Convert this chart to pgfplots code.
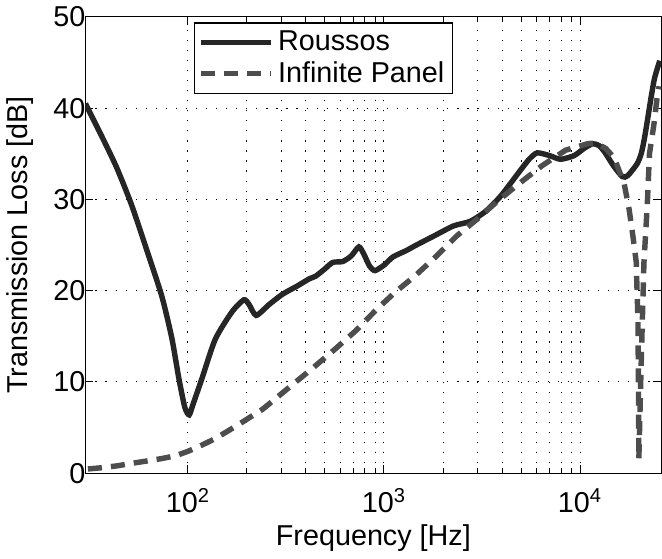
\documentclass[border=0pt]{standalone}
\usepackage{fontspec}
\setmainfont{Liberation Sans}
\usepackage{pgfplots}
\pgfplotsset{compat=1.18}

\definecolor{solidc}{HTML}{262626}
\definecolor{dashc}{HTML}{4D4D4D}

\begin{document}
\begin{tikzpicture}
  \begin{axis}[
    scale only axis,
    width=286.5pt, height=227pt,
    xmode=log,
    xmin=30, xmax=26000,
    ymin=0, ymax=50,
    ytick={0,10,20,30,40,50},
    xtick={100,1000,10000},
    xticklabels={10\textsuperscript{2},10\textsuperscript{3},10\textsuperscript{4}},
    /pgf/number format/assume math mode=true,
    tick align=inside,
    tick pos=both,
    major tick length=4pt,
    minor tick length=2.5pt,
    grid=both,
    major grid style={black, line width=0.5pt, dash pattern=on 0.6pt off 4.4pt},
    minor grid style={black, line width=0.5pt, dash pattern=on 0.6pt off 4.4pt},
    minor y tick num=0,
    axis line style={black, line width=0.6pt},
    tick style={black, line width=0.5pt},
    font=\fontsize{14.3}{16}\selectfont,
    xticklabel style={yshift=-4pt},
    yticklabel style={xshift=3.5pt},
    xlabel={Frequency [Hz]},
    ylabel={Transmission Loss [dB]},
    xlabel style={yshift=1pt},
    ylabel style={yshift=3pt},
    legend style={at={(0.188,0.988)}, anchor=north west, draw=black, line width=0.6pt,
      fill=white, inner sep=2pt, row sep=0pt, font=\fontsize{14.3}{16}\selectfont},
    legend cell align=left,
    legend image code/.code={\draw[#1] (0pt,0pt) -- (35pt,0pt);},
  ]
    \addplot[solidc, line width=2.7pt, smooth, tension=0.4] coordinates {
      (30,40.5) (36.2,37.0) (43.3,33.5) (51.6,29.4) (61.6,24.5) (73.6,19.4)
      (82.8,14.8) (89.9,10.4) (96.5,7.2) (101.5,6.4) (106,7.5) (118,10.4)
      (138,14.7) (168,17.7) (193,19.0) (205,18.5) (223,17.3) (260,18.5)
      (303,19.6) (360,20.5) (416,21.3) (449,21.6) (500,22.4) (548,23.1)
      (616,23.2) (680,23.8) (745,24.8) (790,24.0) (844,22.7) (900,22.2)
      (1000,22.8) (1111,23.7) (1300,24.4) (1462,25.0) (1800,26.0) (2264,27.1)
      (2754,27.6) (3300,28.7) (3915,30.3) (4400,31.7) (4967,33.2) (5500,34.4)
      (6044,35.1) (7000,34.8) (7951,34.4) (9327,34.8) (10500,35.6) (11600,36.1)
      (12500,35.9) (13340,35.2) (14800,33.7) (16420,32.5) (17500,32.6)
      (19540,33.9) (20500,35.0) (21180,36.4) (22000,38.5) (23000,41.1)
      (24000,43.3) (25500,45.2)
    };
    \addlegendentry{Roussos}
    \addplot[dashc, line width=2.7pt, dash pattern=on 7pt off 4.5pt] coordinates {
      (30.9,0.47) (36,0.6) (44.1,0.83) (52,1.1) (62.9,1.37) (73,1.6) (86,1.9)
      (100,2.4) (115.6,3.0) (135,3.7) (155,4.45) (180,5.3) (205,6.07) (240,7.0)
      (270,7.9) (341,9.7) (432,11.5) (570,13.7) (721,15.65) (912,17.9)
      (1135,19.8) (1436,21.6) (1854,23.8) (2349,26.0) (2973,27.8) (3767,29.75)
      (4864,31.7) (6408,33.7) (8447,35.4) (10920,36.1) (12000,36.2)
      (13500,35.6) (14900,34.6) (16800,31.7) (17800,28.9) (18600,26.0)
      (19360,23.1) (19540,19.8) (19740,16.9) (19850,10) (19950,1.5)
      (20500,12) (21180,23.1) (22000,29.2) (22600,35.0) (23800,38.2)
      (24700,41.1) (25300,42.4)
    };
    \addlegendentry{Infinite Panel}
  \end{axis}
\end{tikzpicture}
\end{document}
